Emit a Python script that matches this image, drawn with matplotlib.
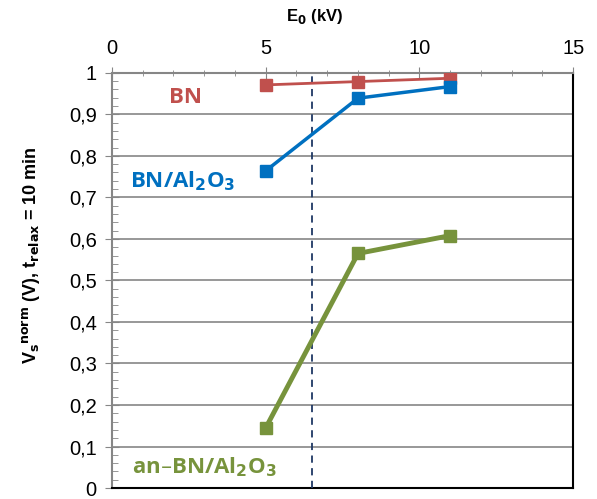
import matplotlib
matplotlib.use("Agg")
import matplotlib.pyplot as plt
from matplotlib.ticker import MultipleLocator, FuncFormatter

# data
energy_kv = [5, 8, 11]
v_bn = [0.971, 0.979, 0.987]
v_bn_al2o3 = [0.764, 0.939, 0.967]
v_an_bn_al2o3 = [0.145, 0.565, 0.608]
e_marker = 6.5

plt.rcParams["font.family"] = ["Liberation Sans", "DejaVu Sans"]

fig = plt.figure(figsize=(5.97, 4.99), dpi=100)
ax = fig.add_axes([0.1876, 0.022, 0.7726, 0.832])

ax.plot(energy_kv, v_bn, "s-", color="#C0504D", lw=2, ms=8, zorder=4)
ax.plot(energy_kv, v_bn_al2o3, "s-", color="#0070C0", lw=2.5, ms=8, zorder=4)
ax.plot(energy_kv, v_an_bn_al2o3, "s-", color="#77933C", lw=3.5, ms=9, zorder=4)
ax.axvline(e_marker, color="#1F3864", lw=1.3, ls=(0, (4, 3)), zorder=3)

ax.set_xlim(0, 15)
ax.set_ylim(0, 1)
ax.xaxis.set_major_locator(MultipleLocator(5))
ax.xaxis.set_minor_locator(MultipleLocator(1))
ax.yaxis.set_major_locator(MultipleLocator(0.1))
ax.yaxis.set_minor_locator(MultipleLocator(0.02))
ax.yaxis.set_major_formatter(FuncFormatter(lambda v, p: f"{v:.1f}".replace(".", ",").replace("0,0", "0").replace("1,0", "1")))
ax.xaxis.tick_top()
ax.xaxis.set_label_position("top")
ax.tick_params(axis="x", which="both", direction="inout", color="#868686", labelsize=14.5, pad=7)
ax.tick_params(axis="x", which="major", length=8)
ax.tick_params(axis="x", which="minor", length=5)
ax.tick_params(axis="y", which="major", direction="inout", length=10, color="#868686", labelsize=14.5, pad=6)
ax.tick_params(axis="y", which="minor", direction="in", length=4, color="#868686")
ax.grid(axis="y", which="major", color="#868686", lw=1.2)

for side in ["left", "top"]:
    ax.spines[side].set_color("#868686")
    ax.spines[side].set_linewidth(1.5)
for side in ["right", "bottom"]:
    ax.spines[side].set_color("black")
    ax.spines[side].set_linewidth(1.5)

ax.set_xlabel(r"E$_\mathbf{0}$ (kV)", fontsize=12, fontweight="bold")
ax.xaxis.set_label_coords(0.44, 1.125)
ax.set_ylabel(r"V$_\mathbf{s}$$^\mathbf{norm}$ (V), t$_\mathbf{relax}$ = 10 min",
              fontsize=13, fontweight="bold")
ax.yaxis.set_label_coords(-0.15, 0.56)

lab = dict(fontsize=16, fontweight="bold", family=["Open Sans", "DejaVu Sans"], va="center", ha="center")
ax.text(2.4, 0.94, "BN", color="#C0504D", **lab)
ax.text(2.3, 0.738, r"BN/Al$_\mathbf{2}$O$_\mathbf{3}$", color="#0070C0", **lab)
ax.text(3.0, 0.05, r"an–BN/Al$_\mathbf{2}$O$_\mathbf{3}$", color="#77933C", **lab)

fig.savefig("out.png", dpi=100)
